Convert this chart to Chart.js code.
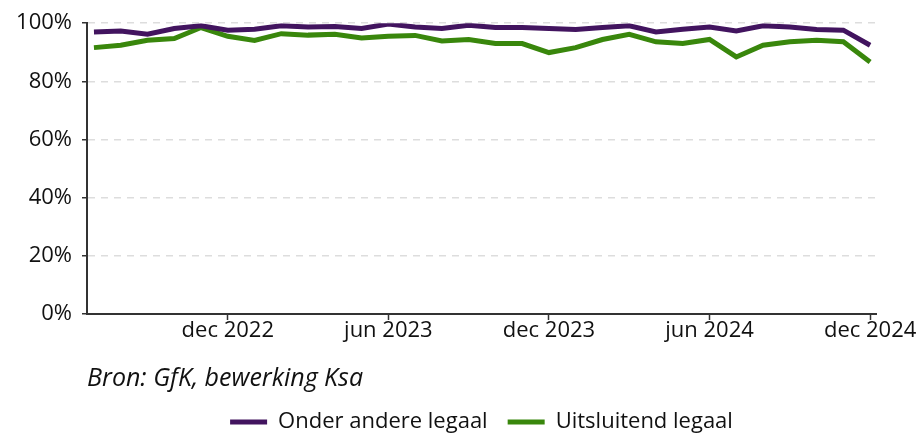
<!DOCTYPE html>
<html>
<head>
<meta charset="utf-8">
<script src="https://cdn.jsdelivr.net/npm/chart.js@4"></script>
<style>
  html, body { margin: 0; padding: 0; background: #fff; }
</style>
</head>
<body>
<canvas id="chart" width="923" height="435"></canvas>
<script>
// maanden op de x-as (juli 2022 t/m december 2024)
const months = [
  'jul 2022', 'aug 2022', 'sep 2022', 'okt 2022', 'nov 2022', 'dec 2022',
  'jan 2023', 'feb 2023', 'mrt 2023', 'apr 2023', 'mei 2023', 'jun 2023',
  'jul 2023', 'aug 2023', 'sep 2023', 'okt 2023', 'nov 2023', 'dec 2023',
  'jan 2024', 'feb 2024', 'mrt 2024', 'apr 2024', 'mei 2024', 'jun 2024',
  'jul 2024', 'aug 2024', 'sep 2024', 'okt 2024', 'nov 2024', 'dec 2024'
];
const tickLabels = ['dec 2022', 'jun 2023', 'dec 2023', 'jun 2024', 'dec 2024'];

const onderAndereLegaal = [
  97.0, 97.3, 96.2, 98.2, 99.1, 97.6,
  97.9, 99.1, 98.7, 98.9, 98.2, 99.7,
  98.7, 98.2, 99.3, 98.5, 98.5, 98.2,
  97.8, 98.5, 99.1, 97.0, 97.9, 98.7,
  97.3, 99.1, 98.7, 97.8, 97.6, 92.4
];
const uitsluitendLegaal = [
  91.6, 92.4, 94.1, 94.7, 98.5, 95.5,
  94.1, 96.4, 95.9, 96.2, 94.9, 95.5,
  95.8, 93.9, 94.4, 93.0, 93.0, 89.9,
  91.6, 94.4, 96.2, 93.6, 93.0, 94.4,
  88.4, 92.4, 93.6, 94.1, 93.6, 86.7
];

const purple = '#42145f';
const green = '#39870c';
const font = 'Open Sans';

const toPoints = vals => vals.map((v, i) => ({ x: i, y: v }));

// legenda iets lager houden zodat alles in het canvas past
const legendHeight = {
  id: 'legendHeight',
  afterInit(chart) {
    const fit = chart.legend.fit;
    chart.legend.fit = function () {
      fit.call(this);
      this.height = 44;
    };
  }
};

new Chart(document.getElementById('chart'), {
  type: 'line',
  data: {
    datasets: [
      {
        label: 'Onder andere legaal',
        data: toPoints(onderAndereLegaal),
        borderColor: purple,
        backgroundColor: purple,
        borderWidth: 5,
        pointRadius: 0,
        tension: 0
      },
      {
        label: 'Uitsluitend legaal',
        data: toPoints(uitsluitendLegaal),
        borderColor: green,
        backgroundColor: green,
        borderWidth: 5,
        pointRadius: 0,
        tension: 0
      }
    ]
  },
  options: {
    responsive: false,
    animation: false,
    layout: { padding: { left: 0, right: 47, top: 23, bottom: 0 } },
    scales: {
      x: {
        type: 'linear',
        min: -0.26,
        max: 29.22,
        afterFit: scale => { scale.height = 34; },
        afterBuildTicks: scale => {
          scale.ticks = tickLabels.map(l => ({ value: months.indexOf(l) }));
        },
        ticks: {
          callback: v => months[v],
          color: '#111',
          font: { family: font, size: 22 },
          padding: -2,
          maxRotation: 0,
          autoSkip: false
        },
        grid: {
          drawOnChartArea: false,
          tickLength: 6,
          tickColor: '#333',
          tickWidth: 1.5
        },
        border: { color: '#333', width: 2 }
      },
      y: {
        min: 0,
        max: 100,
        afterFit: scale => { scale.width = 87; },
        ticks: {
          stepSize: 20,
          callback: v => v + '%',
          color: '#111',
          font: { family: font, size: 22 },
          padding: 10
        },
        grid: {
          color: ctx => ctx.tick && ctx.tick.value === 0 ? 'rgba(0,0,0,0)' : '#dddddd',
          lineWidth: 1.5,
          tickColor: '#333',
          tickLength: 5,
          tickWidth: 1.5,
          tickBorderDash: []
        },
        border: { color: '#333', width: 2, dash: [7, 6] }
      }
    },
    plugins: {
      title: {
        display: true,
        text: 'Bron: GfK, bewerking Ksa',
        position: 'bottom',
        align: 'start',
        fullSize: false,
        weight: 500,
        color: '#111',
        font: { family: font, size: 25, style: 'italic', weight: 'normal', lineHeight: 1 },
        padding: { top: 18, bottom: 0 }
      },
      legend: {
        position: 'bottom',
        fullSize: false,
        labels: {
          color: '#111',
          font: { family: font, size: 22 },
          boxWidth: 37,
          boxHeight: 5,
          padding: 20,
          generateLabels: chart =>
            Chart.defaults.plugins.legend.labels.generateLabels(chart)
              .map(item => Object.assign(item, { lineWidth: 0 }))
        }
      },
      tooltip: { enabled: false }
    }
  },
  plugins: [legendHeight]
});
</script>
</body>
</html>
